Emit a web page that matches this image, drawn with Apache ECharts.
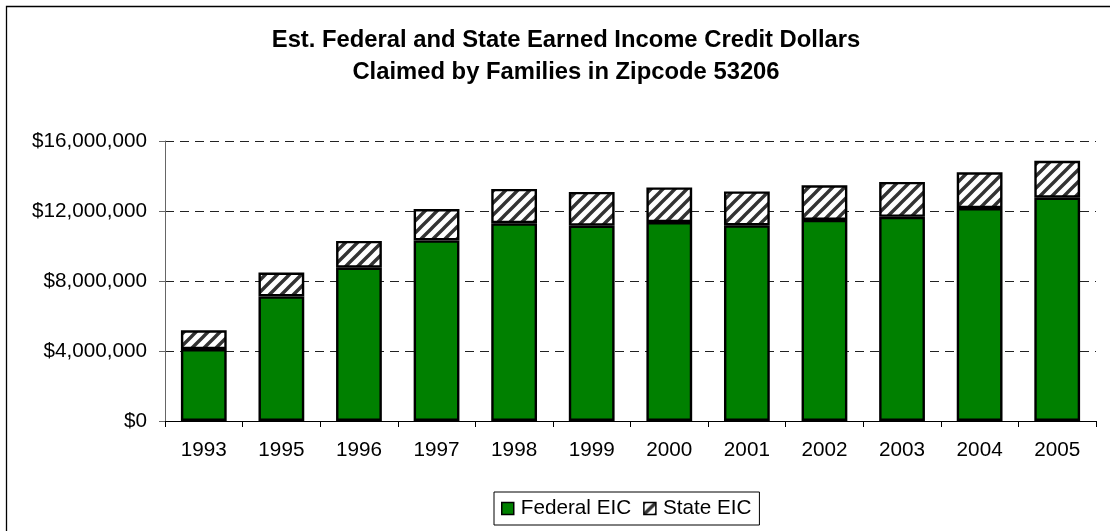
<!DOCTYPE html>
<html>
<head>
<meta charset="utf-8">
<style>
  html, body { margin: 0; padding: 0; background: #fff; }
  #chart { width: 1110px; height: 531px; }
</style>
<script src="https://cdn.jsdelivr.net/npm/echarts@6/dist/echarts.min.js"></script>
</head>
<body>
<div id="chart"></div>
<script>
// Tax years shown on the category axis
const years = ['1993', '1995', '1996', '1997', '1998', '1999', '2000', '2001', '2002', '2003', '2004', '2005'];
// Estimated federal EIC dollars
const federalEIC = [4110000, 7120000, 8760000, 10320000, 11300000, 11160000, 11370000, 11180000, 11490000, 11670000, 12170000, 12760000];
// Estimated state EIC dollars (stacked on top of federal)
const stateEIC = [1070000, 1360000, 1530000, 1790000, 1960000, 1930000, 1980000, 1940000, 1980000, 1990000, 2040000, 2110000];
// Value axis ticks
const yTicks = [0, 4000000, 8000000, 12000000, 16000000];

const FONT = 'Liberation Sans, Arial, sans-serif';

// Diagonal hatch tile for the state series
function hatchTile() {
  const s = 12;
  const c = document.createElement('canvas');
  c.width = s; c.height = s;
  const g = c.getContext('2d');
  g.fillStyle = '#ffffff';
  g.fillRect(0, 0, s, s);
  g.strokeStyle = '#333333';
  g.lineWidth = 3.4;
  g.lineCap = 'square';
  g.beginPath();
  g.moveTo(-2, s + 2); g.lineTo(s + 2, -2);
  g.moveTo(-2 - s, s + 2); g.lineTo(2, -2);
  g.moveTo(s - 2, s + 2); g.lineTo(s + 2 + s, -2);
  g.stroke();
  return c;
}
const hatch = { image: hatchTile(), repeat: 'repeat' };

function money(v) {
  return '$' + String(v).replace(/\B(?=(\d{3})+(?!\d))/g, ',');
}

const chart = echarts.init(document.getElementById('chart'), null, { renderer: 'canvas' });
chart.setOption({
  backgroundColor: '#ffffff',
  animation: false,
  textStyle: { fontFamily: FONT },
  graphic: [{
    type: 'rect',
    shape: { x: 6.5, y: 6.5, width: 1120, height: 540 },
    style: { fill: 'none', stroke: '#000000', lineWidth: 1.3 },
    silent: true
  }],
  title: {
    text: 'Est. Federal and State Earned Income Credit Dollars\nClaimed by Families in Zipcode 53206',
    left: 561,
    textAlign: 'center',
    top: 19,
    textStyle: { fontFamily: FONT, fontWeight: 'bold', fontSize: 23.8, lineHeight: 32, color: '#000' }
  },
  legend: {
    data: [
      { name: 'Federal EIC', itemStyle: { color: '#008000', borderColor: '#000', borderWidth: 1.5 } },
      { name: 'State EIC', itemStyle: { color: hatch, borderColor: '#000', borderWidth: 1.5 } }
    ],
    left: 494,
    top: 492,
    icon: 'rect',
    itemWidth: 12,
    itemHeight: 12,
    itemGap: 12,
    padding: [6, 8, 6, 7],
    borderColor: '#000',
    borderWidth: 1,
    textStyle: { fontFamily: FONT, fontSize: 20.7, color: '#000', padding: [0, 0, 0, 2] }
  },
  grid: { left: 165, right: 14, top: 141, bottom: 110, containLabel: false },
  xAxis: {
    type: 'category',
    data: years,
    axisLine: { lineStyle: { color: '#000', width: 1 } },
    axisTick: { show: true, length: 6, inside: false, lineStyle: { color: '#000' } },
    axisLabel: { fontFamily: FONT, fontSize: 20.7, color: '#000', margin: 19 }
  },
  yAxis: {
    type: 'value',
    min: yTicks[0],
    max: yTicks[yTicks.length - 1],
    interval: yTicks[1] - yTicks[0],
    axisLine: { show: true, lineStyle: { color: '#666', width: 1 } },
    axisTick: { show: true, length: 6, lineStyle: { color: '#666' } },
    axisLabel: { fontFamily: FONT, fontSize: 20.7, color: '#000', margin: 18, formatter: money },
    splitLine: { show: true, lineStyle: { color: '#222', type: [9, 6], width: 1 } }
  },
  series: [
    {
      name: 'Federal EIC',
      type: 'bar',
      stack: 'eic',
      data: federalEIC,
      barCategoryGap: '41%',
      itemStyle: { color: '#008000', borderColor: '#000', borderWidth: 2.4 }
    },
    {
      name: 'State EIC',
      type: 'bar',
      stack: 'eic',
      data: stateEIC,
      barCategoryGap: '41%',
      itemStyle: { color: hatch, borderColor: '#000', borderWidth: 2.4 }
    }
  ]
});
</script>
</body>
</html>
